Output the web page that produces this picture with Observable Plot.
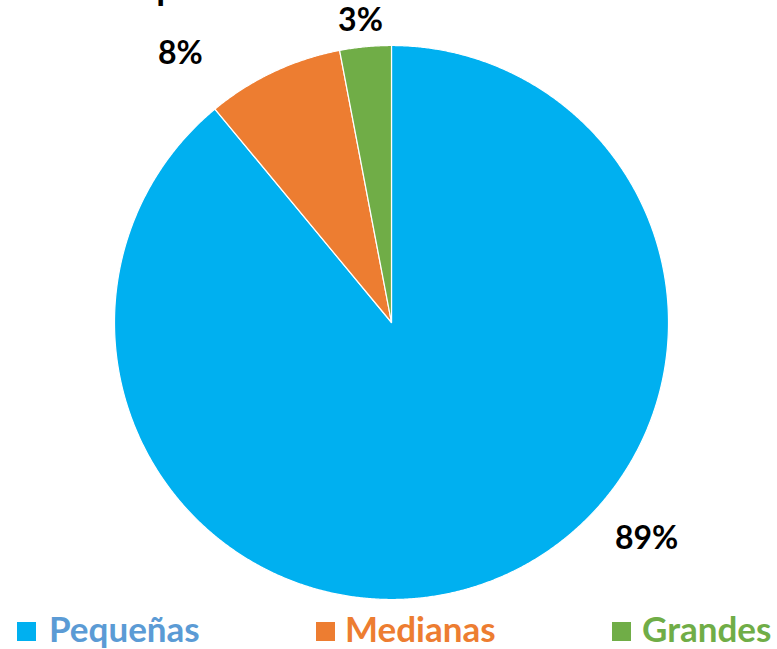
<!DOCTYPE html>
<html>
<head>
<meta charset="utf-8">
<script src="https://cdn.jsdelivr.net/npm/d3@7"></script>
<script src="https://cdn.jsdelivr.net/npm/@observablehq/plot@0.6"></script>
<style>
  html, body { margin: 0; padding: 0; background: #fff; }
  #wrap { width: 777px; height: 649px; position: relative; overflow: hidden; }
  #legend { position: absolute; left: 0; top: 610px; width: 777px; height: 39px;
            font-family: Lato, "Open Sans", sans-serif; font-weight: bold; font-size: 35px; }
  .sw { position: absolute; top: 12px; width: 19px; height: 19px; }
  .lb { position: absolute; top: -1px; line-height: 39px; white-space: nowrap; }
</style>
</head>
<body>
<div id="wrap"><div id="chart"></div><div id="legend"></div></div>
<script>
// Data
const categories = ["Pequeñas", "Medianas", "Grandes"];
const shares = [89, 8, 3];
const labels = ["89%", "8%", "3%"];
const sliceColors = ["#00B0F0", "#ED7D31", "#70AD47"];
const legendTextColors = ["#5B9BD5", "#ED7D31", "#70AD47"];
// label anchor positions in unit-pie coordinates (radius = 1)
const labelX = [0.921, -0.762, -0.112];
const labelY = [-0.782, 0.969, 1.09];

const pie = d3.pie().sort(null).value(d => d)(shares);
const points = [];
pie.forEach((p, i) => {
  points.push({cat: categories[i], color: sliceColors[i], x: 0, y: 0});
  const steps = Math.max(4, Math.ceil((p.endAngle - p.startAngle) / 0.005));
  for (let k = 0; k <= steps; k++) {
    const a = p.startAngle + (p.endAngle - p.startAngle) * k / steps;
    points.push({cat: categories[i], color: sliceColors[i], x: Math.sin(a), y: Math.cos(a)});
  }
});
const labelData = labels.map((t, i) => ({t, x: labelX[i], y: labelY[i]}));

const chart = Plot.plot({
  width: 777,
  height: 610,
  marginLeft: 114,
  marginRight: 109,
  marginTop: 45,
  marginBottom: 11,
  x: {domain: [-1, 1], axis: null},
  y: {domain: [-1, 1], axis: null},
  color: {type: "identity"},
  style: {background: "white", overflow: "visible"},
  marks: [
    Plot.line(points, {x: "x", y: "y", z: "cat", fill: "color", stroke: "white", strokeWidth: 1.2, curve: "linear-closed"}),
    Plot.text(labelData, {x: "x", y: "y", text: "t", fontFamily: "Lato, 'Open Sans', sans-serif", fontWeight: "bold", fontSize: 32, fill: "black", textAnchor: "middle", lineAnchor: "middle"}),
    Plot.text(["p"], {x: [-0.812], y: [1.166], text: d => d, fontFamily: "Lato, sans-serif", fontWeight: "bold", fontSize: 36, fill: "black", textAnchor: "middle", lineAnchor: "bottom"})
  ]
});
document.getElementById("chart").appendChild(chart);

const legendSw = [17, 316, 612];
const legendLb = [49, 345, 642];
const legend = document.getElementById("legend");
categories.forEach((c, i) => {
  const sw = document.createElement("div");
  sw.className = "sw"; sw.style.left = legendSw[i] + "px"; sw.style.background = sliceColors[i];
  const lb = document.createElement("div");
  lb.className = "lb"; lb.style.left = legendLb[i] + "px"; lb.style.color = legendTextColors[i];
  lb.textContent = c;
  legend.appendChild(sw); legend.appendChild(lb);
});
</script>
</body>
</html>
